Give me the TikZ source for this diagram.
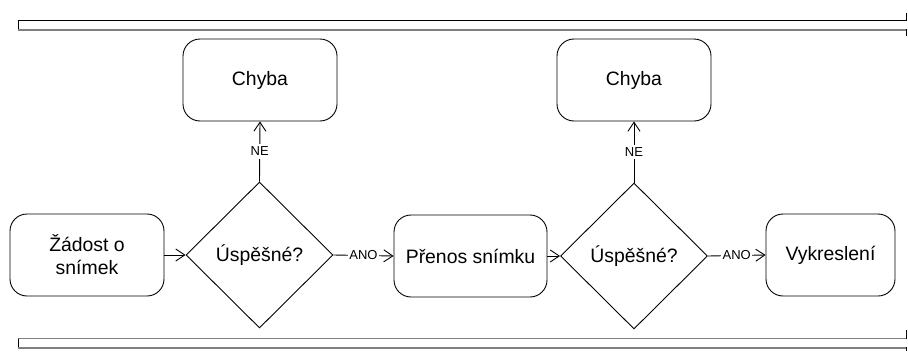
\documentclass[tikz,border=0pt]{standalone}
\usepackage{fontspec}
\setmainfont{Liberation Sans}
\usetikzlibrary{shapes.geometric,arrows.meta}
\begin{document}
\begin{tikzpicture}[x=1pt,y=-1pt,
  line width=0.9pt,
  every node/.style={font=\fontsize{19.4}{23}\selectfont},
  stepbox/.style={draw, rounded corners=17pt, minimum height=82pt, inner sep=2pt, align=center},
  decision/.style={draw, diamond, minimum width=147pt, minimum height=146pt, inner sep=0pt},
  flow/.style={-{Straight Barb[length=9pt,width=12pt,line width=0.9pt]}},
  tag/.style={fill=white, inner xsep=1.5pt, inner ysep=3pt, font=\fontsize{13}{15}\selectfont}
]
\useasboundingbox (0,0) rectangle (908,351);

% lane borders
\draw (906.5,20.5) -- (18,20.5) -- (18,29.5);
\draw[gray, line width=1.5pt] (18,29.8) -- (906.5,29.8);
\draw (906.5,12.5) -- (906.5,21);
\draw (906.5,29) -- (906.5,36);
\draw[gray, line width=1.5pt] (18,338.5) -- (906.5,338.5);
\draw (18,338.5) -- (18,347.5);
\draw[gray, line width=1.5pt] (18,347.8) -- (906.5,347.8);
\draw (906.5,330) -- (906.5,338.5);
\draw (906.5,347) -- (906.5,351);

% process steps
\node[stepbox, minimum width=154pt] (zad) at (87,255) {Žádost o\\snímek};
\node[decision] (d1) at (259.5,255) {Úspěšné?};
\node[stepbox, minimum width=153pt] (pren) at (470.5,256) {Přenos snímku};
\node[decision] (d2) at (634,256) {Úspěšné?};
\node[stepbox, minimum width=129pt] (vyk) at (830.5,255) {Vykreslení};
\node[stepbox, minimum width=154pt] (ch1) at (260,80) {Chyba};
\node[stepbox, minimum width=154pt] (ch2) at (634,80) {Chyba};

% connectors
\draw[flow] (zad.east) -- (d1.west);
\draw[flow] (d1.east) -- node[tag] {ANO} (pren.west);
\draw[flow] (pren.east) -- (d2.west);
\draw[flow] (d2.east) -- node[tag] {ANO} (vyk.west);
\draw[flow] (d1.north) -- node[tag] {NE} (ch1.south);
\draw[flow] (d2.north) -- node[tag] {NE} (ch2.south);
\end{tikzpicture}
\end{document}
